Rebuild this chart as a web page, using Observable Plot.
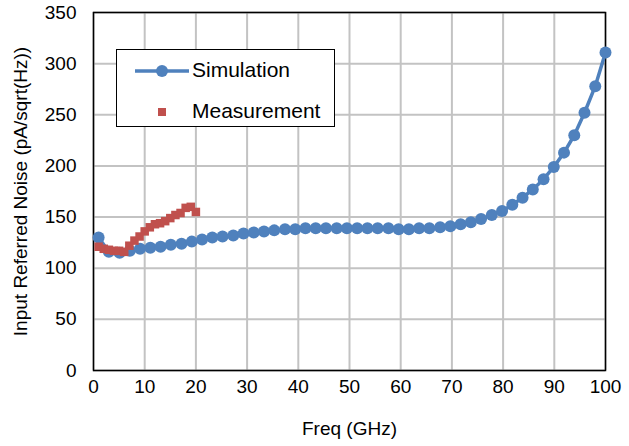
<!DOCTYPE html>
<html>
<head>
<meta charset="utf-8">
<script src="https://cdn.jsdelivr.net/npm/d3@7"></script>
<script src="https://cdn.jsdelivr.net/npm/@observablehq/plot@0.6"></script>
<style>
  body { margin: 0; background: #fff; font-family: "Liberation Sans", Arial, sans-serif; }
  #wrap { position: relative; width: 629px; height: 446px; }
  #legend { position: absolute; left: 116px; top: 49px; width: 219px; height: 78px;
            border: 1.5px solid #000; background: #fff; box-sizing: border-box; }
  #legend svg { position: absolute; left: 0; top: 0; }
  .lt { position: absolute; left: 75px; font-size: 21px; line-height: 24px; color: #000; white-space: nowrap; }
</style>
</head>
<body>
<div id="wrap"></div>
<script>
// Simulation: frequency (GHz) and input-referred noise (pA/sqrt(Hz))
const simFreq = [1, 3, 5.1, 7.1, 9.1, 11.1, 13.1, 15.1, 17.2, 19.2, 21.2, 23.2, 25.2, 27.3, 29.3,
  31.3, 33.3, 35.3, 37.4, 39.4, 41.4, 43.4, 45.4, 47.5, 49.5, 51.5, 53.5, 55.5, 57.6, 59.6,
  61.6, 63.6, 65.6, 67.7, 69.7, 71.7, 73.7, 75.7, 77.8, 79.8, 81.8, 83.8, 85.8, 87.9, 89.9,
  91.9, 93.9, 95.9, 98, 100];
const simNoise = [130, 116, 115, 117, 119, 120, 121, 123, 124, 126, 128, 130, 131, 132, 134,
  135, 136, 137, 138, 138, 139, 139, 139, 139, 139, 139, 139, 139, 139, 138,
  138, 139, 139, 140, 141, 143, 145, 148, 152, 156, 162, 169, 177, 187, 199,
  213, 230, 252, 278, 311];
// Measurement
const measFreq = [1, 2, 3, 4, 5, 6, 7, 8, 9, 10, 11, 12, 13, 14, 15, 16, 17, 18, 19, 20];
const measNoise = [121, 119, 118, 117, 117, 116, 122, 127, 131, 136, 140, 143, 144, 146, 149,
  152, 154, 159, 160, 155];
const xTicks = [0, 10, 20, 30, 40, 50, 60, 70, 80, 90, 100];
const yTicks = [0, 50, 100, 150, 200, 250, 300, 350];

const sim = simFreq.map((f, i) => ({f, v: simNoise[i]}));
const meas = measFreq.map((f, i) => ({f, v: measNoise[i]}));

const blue = "#4F81BD", red = "#C0504D";

const chart = Plot.plot({
  width: 629,
  height: 446,
  marginLeft: 93,
  marginRight: 24,
  marginTop: 12,
  marginBottom: 76,
  style: {fontFamily: '"Liberation Sans", Arial, sans-serif', fontSize: "19px", color: "#000", background: "#fff"},
  x: {domain: [0, 100], ticks: xTicks, label: "Freq (GHz)", labelAnchor: "center", labelOffset: 64, labelArrow: "none", tickSize: 0, tickPadding: 9},
  y: {domain: [0, 350], ticks: yTicks, label: "Input Referred Noise (pA/sqrt(Hz))", labelAnchor: "center", labelOffset: 80, labelArrow: "none", tickSize: 0, tickPadding: 17},
  marks: [
    Plot.gridX(xTicks, {stroke: "#c3c3c3", strokeOpacity: 1, strokeWidth: 2}),
    Plot.gridY(yTicks, {stroke: "#c3c3c3", strokeOpacity: 1, strokeWidth: 2}),
    Plot.frame({stroke: "#000", strokeWidth: 1.5}),
    Plot.line(sim, {x: "f", y: "v", stroke: blue, strokeWidth: 3.5}),
    Plot.dot(sim, {x: "f", y: "v", fill: blue, r: 6}),
    Plot.dot(meas, {x: "f", y: "v", fill: red, symbol: "square", r: 4.8})
  ]
});
chart.querySelectorAll("text").forEach(t => t.setAttribute("fill", "#000"));
const wrap = document.getElementById("wrap");
wrap.appendChild(chart);

const lg = document.createElement("div");
lg.id = "legend";
lg.innerHTML = `
  <svg width="219" height="78">
    <line x1="18" x2="72" y1="21" y2="21" stroke="${blue}" stroke-width="3.5"/>
    <circle cx="45" cy="21" r="6" fill="${blue}"/>
    <rect x="41" y="58" width="8" height="8" fill="${red}"/>
  </svg>
  <div class="lt" style="top:8px">Simulation</div>
  <div class="lt" style="top:49px">Measurement</div>`;
wrap.appendChild(lg);
</script>
</body>
</html>
